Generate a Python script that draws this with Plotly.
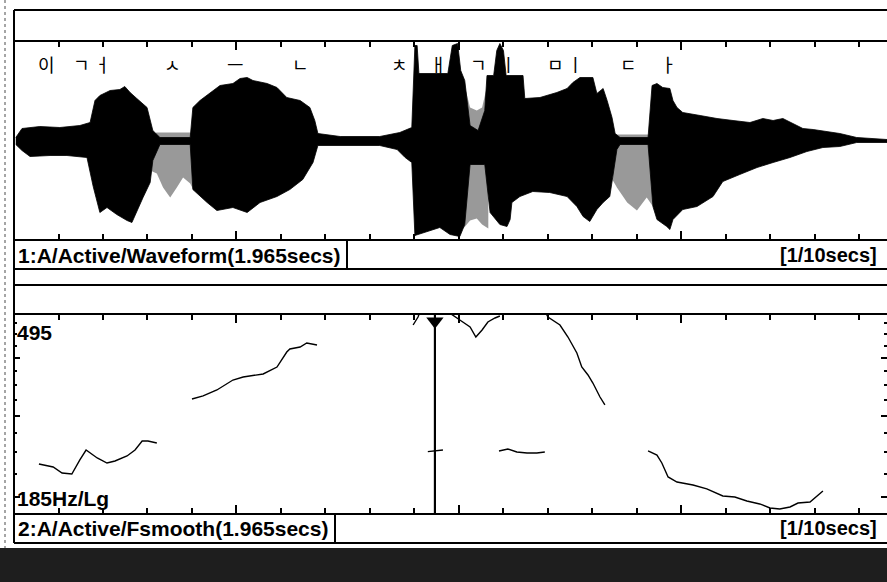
import math
import plotly.graph_objects as go

W, H = 887, 582
DUR = 1.962  # visible seconds (x-axis span)

# ---------------- data ----------------
# waveform envelope (time s, amplitude % of full scale)
upper_t = [0.004, 0.018, 0.058, 0.103, 0.148, 0.171, 0.182, 0.193, 0.216, 0.238, 0.249, 0.261, 0.276,
           0.299, 0.312, 0.328, 0.396, 0.402, 0.418, 0.447, 0.463, 0.492, 0.508, 0.524, 0.537, 0.569,
           0.591, 0.613, 0.643, 0.665, 0.676, 0.683, 0.733, 0.822, 0.867, 0.894, 0.899, 0.901, 0.906,
           0.910, 0.975, 0.985, 0.997, 1.004, 1.013, 1.025, 1.043, 1.058, 1.063, 1.078, 1.085, 1.092,
           1.100, 1.106, 1.144, 1.148, 1.182, 1.220, 1.243, 1.256, 1.272, 1.301, 1.310, 1.324, 1.333,
           1.344, 1.351, 1.362, 1.425, 1.434, 1.445, 1.458, 1.474, 1.481, 1.490, 1.503, 1.542, 1.580,
           1.616, 1.654, 1.683, 1.706, 1.728, 1.751, 1.773, 1.796, 1.856, 1.894, 1.962]
upper_a = [3, 12, 14, 13, 15, 18, 40, 45, 50, 51, 54, 48, 42,
           33, 10, 3, 3, 33, 40, 50, 55, 57, 62, 63, 60, 57,
           53, 43, 40, 33, 20, 7, 4, 4, 8, 13, 67, 95, 95,
           67, 67, 95, 97, 70, 60, 15, 10, 30, 65, 65, 90, 97,
           90, 65, 65, 42, 43, 48, 52, 58, 63, 63, 47, 52, 40,
           23, 7, 3, 3, 55, 57, 53, 52, 40, 33, 28, 25, 22,
           20, 18, 22, 20, 22, 17, 12, 11, 7, 3, 1]
lower_t = [0.004, 0.018, 0.036, 0.081, 0.119, 0.164, 0.178, 0.193, 0.209, 0.231, 0.254, 0.265, 0.276,
           0.290, 0.306, 0.312, 0.328, 0.396, 0.402, 0.434, 0.456, 0.492, 0.524, 0.553, 0.591, 0.620,
           0.649, 0.672, 0.683, 0.822, 0.861, 0.879, 0.894, 0.901, 0.957, 0.980, 1.002, 1.013, 1.025,
           1.058, 1.070, 1.092, 1.108, 1.115, 1.119, 1.137, 1.166, 1.204, 1.243, 1.265, 1.279, 1.294,
           1.310, 1.324, 1.339, 1.346, 1.355, 1.362, 1.425, 1.436, 1.445, 1.467, 1.474, 1.481, 1.503,
           1.535, 1.571, 1.593, 1.631, 1.670, 1.706, 1.744, 1.782, 1.818, 1.856, 1.894, 1.962]
lower_a = [-4, -10, -16, -15, -15, -17, -46, -72, -67, -74, -80, -82, -72,
           -57, -42, -20, -4, -4, -49, -62, -70, -67, -72, -62, -56, -49,
           -39, -22, -5, -5, -9, -17, -22, -95, -87, -94, -96, -84, -24,
           -24, -72, -84, -86, -79, -62, -56, -51, -52, -56, -66, -76, -81,
           -69, -62, -56, -36, -9, -4, -4, -66, -79, -86, -89, -79, -69,
           -66, -56, -41, -34, -27, -22, -17, -11, -7, -6, -2, -2]

# fricative / aspiration noise (lighter texture)
noise1_t = [0.306, 0.321, 0.335, 0.351, 0.366, 0.380, 0.396, 0.404]
noise1_hi = [6, 8, 8, 8, 8, 8, 8, 6]
noise1_lo = [-30, -33, -47, -57, -47, -37, -43, -50]
noise2_t = [1.010, 1.025, 1.040, 1.052, 1.066]
noise2_hi = [60, 33, 30, 33, 60]
noise2_lo = [-88, -80, -78, -84, -88]
noise3_t = [1.346, 1.355, 1.378, 1.400, 1.422, 1.436]
noise3_hi = [6, 6, 6, 6, 6, 6]
noise3_lo = [-40, -47, -62, -70, -57, -66]

# segment labels (Korean jamo) and their times
jamo = ["이", "ㄱ", "ㅓ", "ㅅ", "ㅡ", "ㄴ", "ㅊ", "ㅐ", "ㄱ", "ㅣ", "ㅁ", "ㅣ", "ㄷ", "ㅏ"]
jamo_t = [0.074, 0.151, 0.200, 0.357, 0.497, 0.643, 0.867, 0.953, 1.043, 1.112, 1.216, 1.263, 1.382, 1.472]

# F0 (smoothed) contour segments, Hz
f0_1_t = [0.056, 0.088, 0.108, 0.130, 0.148, 0.162, 0.187, 0.209, 0.227, 0.254, 0.272, 0.288, 0.301, 0.321]
f0_1_hz = [236, 232.5, 225.7, 224.6, 240.8, 253.0, 243.2, 237.2, 239.6, 245.6, 253.0, 264.6, 264.6, 262.0]
f0_2_t = [0.400, 0.425, 0.456, 0.492, 0.515, 0.560, 0.591, 0.613, 0.620, 0.643, 0.658, 0.681]
f0_2_hz = [326.1, 331.0, 341.0, 358.3, 363.7, 369.2, 382.2, 411.8, 418.0, 422.2, 430.7, 426.4]
f0_3_t = [0.897, 0.908, 0.915]
f0_3_hz = [471, 490, 512]
f0_4_t = [0.953, 0.987, 1.002, 1.025, 1.038, 1.052, 1.065, 1.081, 1.092]
f0_4_hz = [520, 495, 482.9, 466.3, 443.7, 459.5, 478.1, 487.7, 492.5]
f0_5_t = [1.193, 1.200, 1.227, 1.245, 1.265, 1.276, 1.290, 1.301, 1.317, 1.328]
f0_5_hz = [505, 490.1, 471.0, 443.7, 409.8, 382.2, 367.4, 353.0, 329.3, 316.5]
f0_6_t = [0.930, 0.946, 0.964]
f0_6_hz = [251, 252, 253]
f0_7_t = [1.090, 1.110, 1.130, 1.153, 1.175, 1.193]
f0_7_hz = [251.8, 254.3, 250.6, 249.3, 249.3, 250.6]
f0_8_t = [1.425, 1.445, 1.456, 1.470, 1.490, 1.526, 1.557, 1.593, 1.620, 1.647, 1.676, 1.699, 1.721,
          1.744, 1.762, 1.789, 1.818]
f0_8_hz = [251.8, 246.8, 237.2, 221.3, 215.8, 212.6, 208.5, 201.3, 200.3, 196.4, 193.5, 189.7, 188.7,
           190.6, 194.4, 195.4, 206.4]
f0_segments = [(f0_1_t, f0_1_hz), (f0_2_t, f0_2_hz), (f0_3_t, f0_3_hz), (f0_4_t, f0_4_hz),
               (f0_5_t, f0_5_hz), (f0_6_t, f0_6_hz), (f0_7_t, f0_7_hz), (f0_8_t, f0_8_hz)]

cursor_t = 0.946
f0_min, f0_max = 185, 495

time_major = [0.5, 1.0, 1.5]
time_minor = [0.1, 0.2, 0.3, 0.4, 0.6, 0.7, 0.8, 0.9, 1.1, 1.2, 1.3, 1.4, 1.6, 1.7, 1.8, 1.9]
f0_major = [200, 300, 400]
f0_minor = [225, 250, 275, 325, 350, 375, 425, 450, 475]

# ---------------- figure ----------------
def px(x):
    return x / W

def py(y):
    return 1 - y / H

fig = go.Figure()

for nt, nh, nl in [(noise1_t, noise1_hi, noise1_lo), (noise2_t, noise2_hi, noise2_lo),
                   (noise3_t, noise3_hi, noise3_lo)]:
    fig.add_trace(go.Scatter(x=nt + nt[::-1], y=nh + nl[::-1], fill="toself", mode="lines",
                             line=dict(width=0), fillcolor="rgba(0,0,0,0.40)",
                             xaxis="x", yaxis="y", hoverinfo="skip", showlegend=False))

fig.add_trace(go.Scatter(x=upper_t + lower_t[::-1], y=upper_a + lower_a[::-1], fill="toself",
                         mode="lines", line=dict(width=0.8, color="black"), fillcolor="black",
                         xaxis="x", yaxis="y", hoverinfo="skip", showlegend=False))

for st, sf in f0_segments:
    fig.add_trace(go.Scatter(x=st, y=sf, mode="lines", line=dict(color="black", width=1.4),
                             xaxis="x2", yaxis="y2", showlegend=False))

# cursor
fig.add_trace(go.Scatter(x=[cursor_t, cursor_t], y=[f0_min, f0_max], mode="lines",
                         line=dict(color="black", width=2.2), xaxis="x2", yaxis="y2", showlegend=False))
fig.add_trace(go.Scatter(x=[cursor_t], y=[480], mode="markers",
                         marker=dict(symbol="triangle-down", size=15, color="black"),
                         cliponaxis=False, xaxis="x2", yaxis="y2", showlegend=False))

xdom = [px(14), 1.0]
xcommon = dict(range=[0, DUR], domain=xdom, showgrid=False, zeroline=False, showticklabels=False,
               showline=True, linewidth=2, linecolor="black", mirror="ticks",
               ticks="inside", tickmode="array", tickvals=time_major, ticklen=8, tickwidth=2,
               tickcolor="black",
               minor=dict(tickmode="array", tickvals=time_minor, ticks="inside", ticklen=5,
                          tickwidth=1.5, tickcolor="black"))

fig.update_layout(
    width=W, height=H, margin=dict(l=0, r=0, t=0, b=0),
    paper_bgcolor="white", plot_bgcolor="white", showlegend=False,
    xaxis=dict(anchor="y", **xcommon),
    yaxis=dict(range=[-98.5, 98.5], domain=[py(239), py(42)], anchor="x", showgrid=False,
               zeroline=False, showticklabels=False, showline=False, ticks=""),
    xaxis2=dict(anchor="y2", **xcommon),
    yaxis2=dict(type="log", range=[math.log10(f0_min), math.log10(f0_max)],
                domain=[py(513), py(315)], anchor="x2", showgrid=False, zeroline=False,
                showticklabels=False, showline=False, mirror="ticks", ticks="inside",
                tickmode="array", tickvals=f0_major, ticklen=6, tickwidth=2, tickcolor="black",
                minor=dict(tickmode="array", tickvals=f0_minor, ticks="inside", ticklen=3,
                           tickwidth=1.5, tickcolor="black")),
    font=dict(family="Liberation Sans, Arial, sans-serif", color="black"),
)

shapes = []
def hline(y, x0=14, x1=W, w=2, color="black"):
    shapes.append(dict(type="line", xref="paper", yref="paper", x0=px(x0), x1=px(x1),
                       y0=py(y), y1=py(y), line=dict(color=color, width=w)))

def vline(x, y0, y1, w=2, color="black", dash=None):
    d = dict(color=color, width=w)
    if dash:
        d["dash"] = dash
    shapes.append(dict(type="line", xref="paper", yref="paper", x0=px(x), x1=px(x),
                       y0=py(y0), y1=py(y1), line=d))

hline(10)
hline(269)
hline(285)
hline(543)
vline(14, 10, 543)
vline(5, 0, 548, w=1.5, color="#888", dash="dot")
# status panes
vline(347, 239, 268)
vline(335, 513, 542)
shapes.append(dict(type="rect", xref="paper", yref="paper", x0=0, x1=1, y0=0, y1=py(548),
                   fillcolor="#1e1e1e", line=dict(width=0), layer="above"))
fig.update_layout(shapes=shapes)

ann = []
for j, t in zip(jamo, jamo_t):
    ann.append(dict(x=t, y=76, xref="x", yref="y", text=j, showarrow=False,
                    font=dict(family="Noto Sans CJK KR", size=18, color="black")))

def label(text, x, y, size=21, anchor="left"):
    ann.append(dict(x=px(x), y=py(y), xref="paper", yref="paper", text="<b>%s</b>" % text,
                    showarrow=False, xanchor=anchor, yanchor="middle",
                    font=dict(family="Liberation Sans, Arial", size=size, color="black")))

label("1:A/Active/Waveform(1.965secs)", 16, 255)
label("[1/10secs]", 879, 255, size=20, anchor="right")
label("2:A/Active/Fsmooth(1.965secs)", 16, 528)
label("[1/10secs]", 879, 528, size=20, anchor="right")
label("495", 15, 332, size=21)
label("185Hz/Lg", 15, 498, size=21)
fig.update_layout(annotations=ann)

fig.write_html("out.html", config={"displayModeBar": False},
               post_script="document.body.style.margin='0px';document.body.style.overflow='hidden';")
